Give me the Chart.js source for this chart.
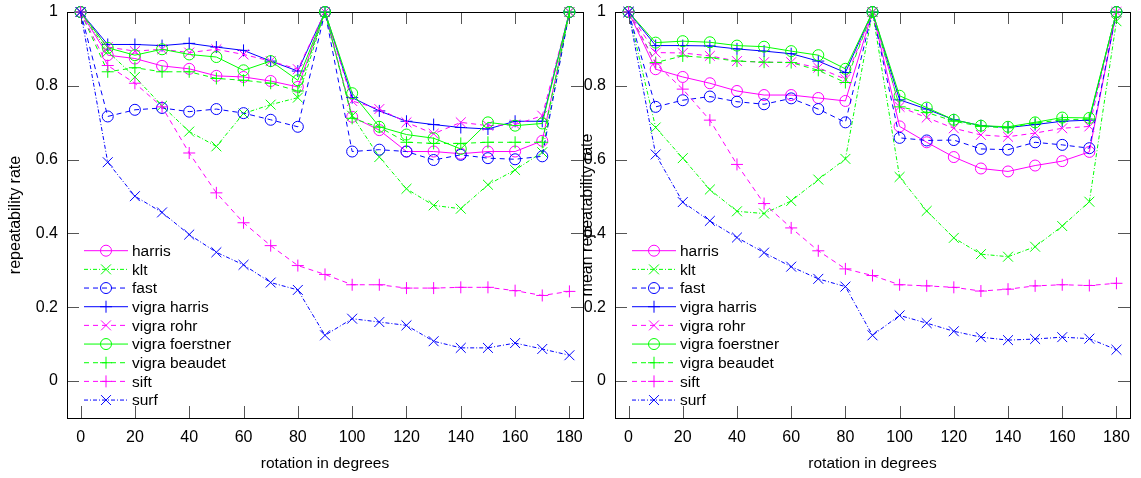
<!DOCTYPE html>
<html>
<head>
<meta charset="utf-8">
<script src="https://cdn.jsdelivr.net/npm/chart.js"></script>
<style>
  body { margin: 0; background: #fff; }
  #wrap { position: relative; width: 1141px; height: 478px; }
  canvas { position: absolute; top: 0; }
  #c1 { left: 0; }
  #c2 { left: 570px; }
</style>
</head>
<body>
<div id="wrap">
  <canvas id="c1" width="600" height="478"></canvas>
  <canvas id="c2" width="571" height="478"></canvas>
</div>
<script>
var degrees = [0,10,20,30,40,50,60,70,80,90,100,110,120,130,140,150,160,170,180];
var xTicks = [0,20,40,60,80,100,120,140,160,180];
var yTicks = [0,0.2,0.4,0.6,0.8,1];
var names = ["harris","klt","fast","vigra harris","vigra rohr","vigra foerstner","vigra beaudet","sift","surf"];

// left: repeatability rate
var repHarris = [1,0.883,0.874,0.854,0.846,0.827,0.824,0.813,0.797,1,0.716,0.680,0.622,0.622,0.616,0.622,0.622,0.651,1];
var repKlt = [1,0.893,0.824,0.746,0.676,0.636,0.725,0.749,0.768,1,0.719,0.607,0.521,0.476,0.467,0.532,0.572,0.620,1];
var repFast = [1,0.717,0.735,0.740,0.730,0.737,0.726,0.708,0.689,1,0.622,0.627,0.622,0.599,0.613,0.604,0.601,0.609,1];
var repVigraHarris = [1,0.912,0.912,0.909,0.915,0.905,0.896,0.867,0.840,1,0.768,0.732,0.704,0.695,0.687,0.683,0.704,0.704,1];
var repVigraRohr = [1,0.905,0.894,0.899,0.890,0.899,0.885,0.867,0.845,1,0.759,0.737,0.701,0.670,0.701,0.692,0.695,0.719,1];
var repVigraFoerstner = [1,0.903,0.883,0.899,0.885,0.878,0.842,0.867,0.815,1,0.780,0.689,0.668,0.658,0.629,0.701,0.692,0.698,1];
var repVigraBeaudet = [1,0.838,0.849,0.838,0.838,0.820,0.815,0.807,0.786,1,0.712,0.688,0.647,0.644,0.644,0.647,0.647,0.647,1];
var repSift = [1,0.855,0.807,0.743,0.618,0.510,0.429,0.367,0.313,0.289,0.261,0.261,0.252,0.252,0.254,0.254,0.245,0.232,0.243];
var repSurf = [1,0.593,0.501,0.457,0.397,0.349,0.315,0.267,0.247,0.124,0.169,0.160,0.151,0.108,0.090,0.090,0.103,0.087,0.070];

// right: mean repeatability rate
var meanHarris = [1,0.845,0.824,0.807,0.786,0.775,0.775,0.767,0.759,1,0.690,0.647,0.607,0.576,0.568,0.584,0.596,0.621,1];
var meanKlt = [1,0.687,0.604,0.519,0.460,0.454,0.488,0.546,0.602,1,0.553,0.461,0.388,0.344,0.337,0.364,0.420,0.486,0.975];
var meanFast = [1,0.743,0.761,0.771,0.757,0.750,0.766,0.737,0.701,1,0.659,0.652,0.653,0.629,0.627,0.647,0.640,0.631,1];
var meanVigraHarris = [1,0.909,0.909,0.908,0.900,0.894,0.887,0.867,0.836,1,0.762,0.737,0.708,0.692,0.687,0.695,0.704,0.707,1];
var meanVigraRohr = [1,0.890,0.889,0.881,0.867,0.864,0.864,0.849,0.818,1,0.743,0.714,0.685,0.667,0.662,0.672,0.685,0.690,1];
var meanVigraFoerstner = [1,0.917,0.921,0.918,0.909,0.906,0.894,0.883,0.846,1,0.773,0.741,0.708,0.692,0.689,0.701,0.714,0.713,1];
var meanVigraBeaudet = [1,0.863,0.881,0.876,0.867,0.864,0.863,0.842,0.809,1,0.743,0.728,0.704,0.690,0.686,0.699,0.708,0.710,1];
var meanSift = [1,0.860,0.791,0.707,0.587,0.481,0.415,0.353,0.304,0.286,0.261,0.258,0.254,0.244,0.249,0.258,0.261,0.259,0.265];
var meanSurf = [1,0.614,0.485,0.434,0.389,0.348,0.310,0.277,0.256,0.124,0.178,0.157,0.135,0.119,0.111,0.114,0.119,0.115,0.085];

var MAG = "#ff00ff", GRN = "#00ff00", BLU = "#0000ff";
var DASH = [5,4], DASHDOT = [4,2,1,2], SOLID = [];
// color, dash, marker, radius
var styles = [
  [MAG, SOLID, "circle", 5.5],
  [GRN, DASHDOT, "crossRot", 7],
  [BLU, DASH, "circle", 5.5],
  [BLU, SOLID, "cross", 6],
  [MAG, DASH, "crossRot", 7],
  [GRN, SOLID, "circle", 5.5],
  [GRN, DASH, "cross", 6],
  [MAG, DASH, "cross", 6],
  [BLU, DASHDOT, "crossRot", 7]
];

function makeSets(series) {
  var sets = [];
  for (var i = 0; i < series.length; i++) {
    var s = styles[i];
    sets.push({
      label: names[i],
      data: degrees.map(function (d, k) { return { x: d, y: series[i][k] }; }),
      borderColor: s[0],
      backgroundColor: "rgba(0,0,0,0)",
      borderWidth: 1,
      borderDash: s[1],
      pointStyle: s[2],
      pointRadius: s[3],
      pointBorderWidth: 1,
      pointBorderColor: s[0],
      pointBackgroundColor: "rgba(0,0,0,0)",
      tension: 0,
      clip: false,
      order: series.length - i
    });
  }
  return sets;
}

function marker(ctx, style, r, x, y) {
  ctx.beginPath();
  if (style == "circle") {
    ctx.arc(x, y, r, 0, Math.PI * 2);
  } else if (style == "cross") {
    ctx.moveTo(x - r, y); ctx.lineTo(x + r, y);
    ctx.moveTo(x, y - r); ctx.lineTo(x, y + r);
  } else {
    var d = r * Math.SQRT1_2;
    ctx.moveTo(x - d, y - d); ctx.lineTo(x + d, y + d);
    ctx.moveTo(x - d, y + d); ctx.lineTo(x + d, y - d);
  }
  ctx.stroke();
}

// box + inward ticks on all four sides, legend in lower left
var framePlugin = {
  id: "frame",
  beforeDatasetsDraw: function (chart) {
    var ctx = chart.ctx, a = chart.chartArea;
    var xs = chart.scales.x, ys = chart.scales.y;
    ctx.save();
    ctx.strokeStyle = "#555";
    ctx.lineWidth = 1;
    ctx.setLineDash([]);
    ctx.beginPath();
    xTicks.forEach(function (v) {
      var px = Math.round(xs.getPixelForValue(v)) + 0.5;
      ctx.moveTo(px, a.bottom); ctx.lineTo(px, a.bottom - 12);
      ctx.moveTo(px, a.top); ctx.lineTo(px, a.top + 12);
    });
    yTicks.forEach(function (v) {
      var py = Math.round(ys.getPixelForValue(v)) + 0.5;
      ctx.moveTo(a.left, py); ctx.lineTo(a.left + 12, py);
      ctx.moveTo(a.right, py); ctx.lineTo(a.right - 12, py);
    });
    ctx.stroke();
    ctx.strokeStyle = "#000";
    ctx.strokeRect(Math.round(a.left) + 0.5, Math.round(a.top) + 0.5,
      Math.round(a.right - a.left), Math.round(a.bottom - a.top));
    ctx.restore();
  },
  afterDraw: function (chart) {
    var ctx = chart.ctx, a = chart.chartArea;
    ctx.save();
    ctx.font = "15.5px 'Liberation Sans', Arial, sans-serif";
    ctx.textBaseline = "middle";
    ctx.fillStyle = "#000";
    chart.data.datasets.forEach(function (ds, i) {
      var y = a.top + 238.7 + i * 18.67;
      var x0 = a.left + 17;
      ctx.strokeStyle = ds.borderColor;
      ctx.lineWidth = 1;
      ctx.setLineDash(ds.borderDash);
      ctx.beginPath();
      ctx.moveTo(x0, y); ctx.lineTo(x0 + 44, y);
      ctx.stroke();
      ctx.setLineDash([]);
      marker(ctx, ds.pointStyle, ds.pointRadius, x0 + 22, y);
      ctx.fillText(ds.label, x0 + 48, y + 1);
    });
    ctx.restore();
  }
};

function makeChart(id, series, ytitle, yWidth, padRight, titlePad) {
  var tickFont = { family: "'Liberation Sans', Arial, sans-serif", size: 16 };
  return new Chart(document.getElementById(id).getContext("2d"), {
    type: "line",
    data: { datasets: makeSets(series) },
    options: {
      responsive: false,
      animation: false,
      devicePixelRatio: 1,
      layout: { padding: { left: 0, right: padRight, top: 12, bottom: 0 } },
      plugins: { legend: { display: false }, tooltip: { enabled: false } },
      scales: {
        x: {
          type: "linear",
          min: -5,
          max: 185,
          afterBuildTicks: function (s) { s.ticks = xTicks.map(function (v) { return { value: v }; }); },
          afterFit: function (s) { s.height = 60; s.paddingLeft = 0; s.paddingRight = 0; },
          grid: { display: false, drawTicks: false },
          border: { display: false },
          ticks: { color: "#000", font: tickFont, padding: 10, maxRotation: 0, autoSkip: false },
          title: { display: true, text: "rotation in degrees", color: "#000",
            font: { family: "'Liberation Sans', Arial, sans-serif", size: 15.5 }, padding: { top: 0, bottom: 5 } }
        },
        y: {
          type: "linear",
          min: -0.1,
          max: 1,
          afterBuildTicks: function (s) { s.ticks = yTicks.map(function (v) { return { value: v }; }); },
          afterFit: function (s) { s.width = yWidth; s.paddingTop = 0; s.paddingBottom = 0; },
          grid: { display: false, drawTicks: false },
          border: { display: false },
          ticks: { color: "#000", font: tickFont, padding: 9,
            callback: function (v) { return String(Math.round(v * 10) / 10); } },
          title: { display: true, text: ytitle, color: "#000",
            font: { family: "'Liberation Sans', Arial, sans-serif", size: 16 }, padding: { top: titlePad, bottom: 0 } }
        }
      }
    },
    plugins: [framePlugin]
  });
}

makeChart("c1", [repHarris, repKlt, repFast, repVigraHarris, repVigraRohr, repVigraFoerstner, repVigraBeaudet, repSift, repSurf],
  "repeatability rate", 67, 17, 6);
makeChart("c2", [meanHarris, meanKlt, meanFast, meanVigraHarris, meanVigraRohr, meanVigraFoerstner, meanVigraBeaudet, meanSift, meanSurf],
  "mean repeatability rate", 45, 11, 8);
</script>
</body>
</html>
